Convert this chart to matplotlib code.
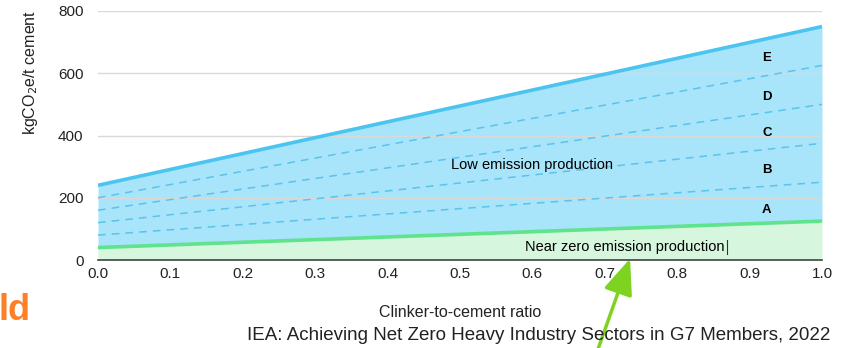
import numpy as np
import matplotlib
matplotlib.use("Agg")
import matplotlib.pyplot as plt

plt.rcParams['font.family'] = ['Liberation Sans', 'DejaVu Sans']

# Clinker-to-cement ratio endpoints
ratio = [0.0, 1.0]
# Upper bound of low emission production (kgCO2e/t cement)
low_upper = [240, 750]
# Upper bound of near zero emission production
near_zero = [40, 125]
# Intermediate threshold lines (dashed), bottom to top
thresholds = [
    [80, 250],
    [120, 375],
    [160, 500],
    [200, 625],
]
band_labels = ['A', 'B', 'C', 'D', 'E']
band_label_y = [160, 290, 408, 524, 648]
yticks = [0, 200, 400, 600, 800]
xticks = [0.0, 0.1, 0.2, 0.3, 0.4, 0.5, 0.6, 0.7, 0.8, 0.9, 1.0]

W, H = 847, 348
fig = plt.figure(figsize=(W/100, H/100), dpi=100)
ax = fig.add_axes([98/W, 1-260/H, 724/W, 249/H])

ax.fill_between(ratio, near_zero, low_upper, color='#a8e4fa', zorder=1, lw=0)
ax.fill_between(ratio, 0, near_zero, color='#d6f6dd', zorder=1, lw=0)
for t in thresholds:
    ax.plot(ratio, t, color='#5cc3ea', lw=1.1, ls=(0, (5, 4)), zorder=3)
ax.plot(ratio, low_upper, color='#4cc4f0', lw=2.6, zorder=4, solid_capstyle='butt')
ax.plot(ratio, near_zero, color='#5fe38c', lw=2.6, zorder=4, solid_capstyle='butt')

for lab, yv in zip(band_labels, band_label_y):
    ax.text(0.924, yv, lab, ha='center', va='center', fontsize=9.5, fontweight='bold', zorder=5)

ax.text(0.60, 305, 'Low emission production', ha='center', va='center', fontsize=10.5, zorder=5)
ax.text(0.5898, 42, 'Near zero emission production', ha='left', va='center', fontsize=10.5, zorder=5)
ax.plot([0.869, 0.869], [20, 64], color='#333333', lw=0.8, zorder=5)

ax.set_xlim(0, 1)
ax.set_ylim(0, 800)
ax.set_yticks(yticks)
ax.set_xticks(xticks)
ax.set_xticklabels([f'{v:.1f}' for v in xticks])
ax.grid(axis='y', color='#d9d9d9', lw=1, zorder=2)
ax.set_axisbelow(False)
for s in ['top', 'right', 'left']:
    ax.spines[s].set_visible(False)
ax.spines['bottom'].set_color('#444444')
ax.spines['bottom'].set_linewidth(1.2)
ax.spines['bottom'].set_zorder(6)
ax.tick_params(axis='x', length=0, labelsize=11, colors='#222222', pad=5)
ax.tick_params(axis='y', length=0, labelsize=11, colors='#222222', pad=10.5)
ax.set_xlabel('Clinker-to-cement ratio', fontsize=11.5, labelpad=17, color='#222222')
ax.set_ylabel('kgCO$_2$e/t cement', fontsize=11.5, color='#222222')
ax.yaxis.set_label_coords(40/W, 1-72/H, transform=fig.transFigure)

fig.text(830/W, 1-335/H, 'IEA: Achieving Net Zero Heavy Industry Sectors in G7 Members, 2022',
         ha='right', va='center', fontsize=13.5, color='#222222')
fig.text(31/W, 1-320/H, 'ld', ha='right', va='baseline', fontsize=26, fontweight='bold', color='#ff7f27')

fig.add_artist(matplotlib.patches.FancyArrowPatch(
    (597/W, 1-352/H), (631/W, 1-256/H), transform=fig.transFigure,
    arrowstyle='-|>,head_length=22,head_width=9', color='#7ed321', lw=2.5, mutation_scale=1))

fig.savefig('out.png', dpi=100)
